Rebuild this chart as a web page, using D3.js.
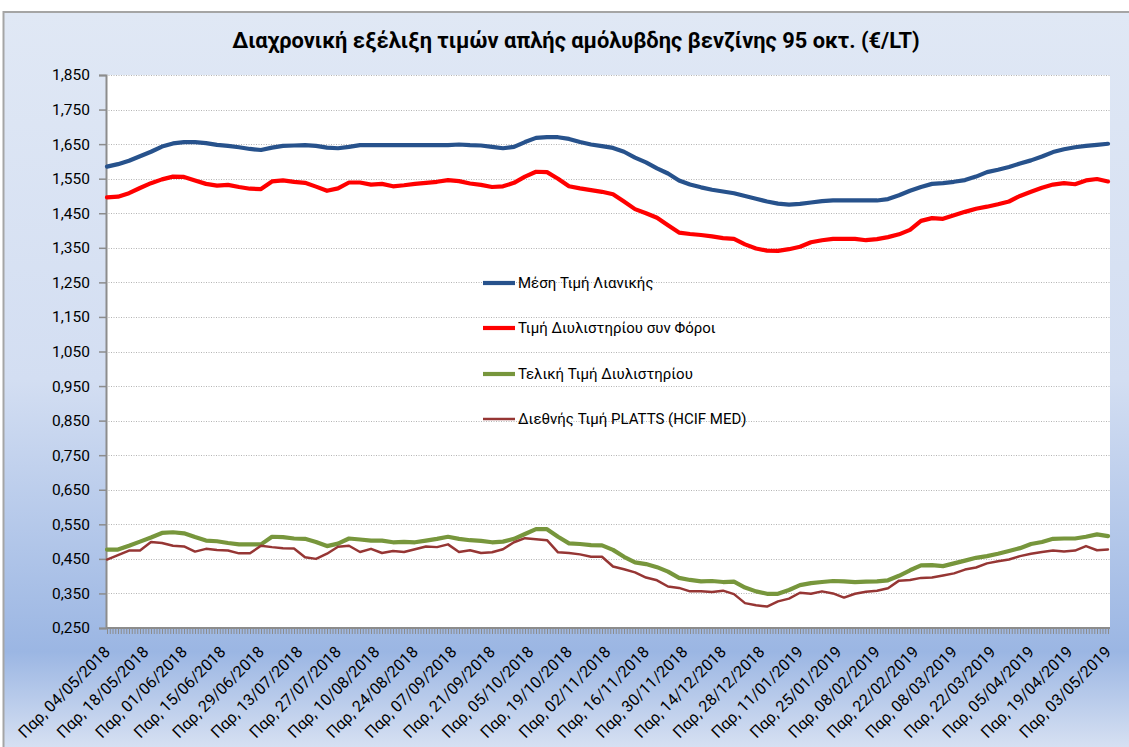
<!DOCTYPE html>
<html><head><meta charset="utf-8">
<script src="https://cdn.jsdelivr.net/npm/d3@7"></script>
<style>html,body{margin:0;padding:0;background:#fff;} svg{display:block;font-family:Roboto,"Noto Sans",sans-serif;}</style>
</head><body><svg id="chart" width="1129" height="747"></svg>
<script>
const chartTitle = "Διαχρονική εξέλιξη τιμών απλής αμόλυβδης βενζίνης 95 οκτ. (€/LT)";
const seriesNames = ["Μέση Τιμή Λιανικής", "Τιμή Διυλιστηρίου συν Φόροι", "Τελική Τιμή Διυλιστηρίου", "Διεθνής Τιμή PLATTS (HCIF MED)"];
const seriesColors = ["#27528c", "#ff0000", "#77963c", "#963634"];
const startDate = "2018-05-04", endDate = "2019-05-03", sampleStepDays = 4;

const retail = [1.585,1.592,1.602,1.615,1.628,1.643,1.652,1.656,1.656,1.653,
 1.648,1.645,1.641,1.636,1.633,1.640,1.645,1.646,1.647,1.645,
 1.640,1.638,1.642,1.647,1.647,1.647,1.647,1.647,1.647,1.647,
 1.647,1.647,1.649,1.647,1.646,1.642,1.638,1.642,1.656,1.668,
 1.670,1.670,1.665,1.656,1.649,1.644,1.639,1.628,1.611,1.597,
 1.580,1.565,1.545,1.533,1.525,1.518,1.513,1.508,1.500,1.492,
 1.484,1.478,1.475,1.477,1.481,1.485,1.487,1.487,1.487,1.487,
 1.487,1.491,1.502,1.515,1.526,1.535,1.537,1.541,1.546,1.556,
 1.569,1.576,1.584,1.594,1.603,1.614,1.627,1.635,1.641,1.645,
 1.648,1.651];
const refineryTax = [1.496,1.498,1.508,1.523,1.537,1.548,1.556,1.555,1.545,1.535,
 1.530,1.532,1.526,1.521,1.520,1.542,1.545,1.541,1.538,1.527,
 1.515,1.522,1.539,1.539,1.533,1.535,1.528,1.531,1.535,1.538,
 1.541,1.546,1.543,1.536,1.532,1.526,1.528,1.538,1.556,1.570,
 1.569,1.550,1.528,1.522,1.517,1.512,1.505,1.484,1.462,1.450,
 1.437,1.415,1.394,1.390,1.387,1.383,1.378,1.376,1.360,1.348,
 1.342,1.341,1.346,1.353,1.366,1.372,1.376,1.376,1.376,1.372,
 1.375,1.381,1.389,1.402,1.428,1.436,1.434,1.444,1.454,1.463,
 1.469,1.476,1.484,1.500,1.512,1.524,1.533,1.537,1.534,1.545,
 1.549,1.542];
const refineryFinal = [0.477,0.477,0.488,0.500,0.512,0.525,0.527,0.524,0.513,0.503,
 0.501,0.496,0.492,0.492,0.492,0.514,0.513,0.509,0.508,0.499,
 0.487,0.494,0.509,0.506,0.503,0.503,0.498,0.499,0.498,0.503,
 0.508,0.514,0.508,0.504,0.502,0.498,0.500,0.508,0.522,0.536,
 0.536,0.514,0.495,0.493,0.490,0.489,0.476,0.456,0.440,0.435,
 0.426,0.413,0.395,0.389,0.385,0.386,0.383,0.384,0.367,0.356,
 0.349,0.349,0.360,0.374,0.380,0.383,0.386,0.385,0.383,0.384,
 0.385,0.388,0.401,0.417,0.431,0.432,0.429,0.437,0.445,0.453,
 0.458,0.465,0.473,0.481,0.493,0.499,0.508,0.509,0.509,0.514,
 0.521,0.516];
const platts = [0.448,0.461,0.474,0.474,0.499,0.496,0.488,0.486,0.471,0.479,
 0.476,0.474,0.466,0.466,0.488,0.484,0.481,0.480,0.455,0.450,
 0.465,0.485,0.488,0.470,0.479,0.467,0.473,0.470,0.478,0.486,
 0.484,0.492,0.470,0.475,0.467,0.469,0.478,0.498,0.510,0.507,
 0.504,0.469,0.467,0.463,0.456,0.456,0.428,0.420,0.411,0.396,
 0.388,0.370,0.366,0.356,0.356,0.354,0.358,0.348,0.322,0.316,
 0.312,0.327,0.335,0.352,0.349,0.356,0.350,0.338,0.349,0.355,
 0.358,0.365,0.387,0.389,0.395,0.396,0.402,0.408,0.419,0.425,
 0.437,0.443,0.448,0.458,0.465,0.470,0.474,0.471,0.474,0.487,
 0.475,0.477];

const yTicks = [1.85,1.75,1.65,1.55,1.45,1.35,1.25,1.15,1.05,0.95,0.85,0.75,0.65,0.55,0.45,0.35,0.25];
const xTickLabels = ["Παρ, 04/05/2018","Παρ, 18/05/2018","Παρ, 01/06/2018","Παρ, 15/06/2018","Παρ, 29/06/2018",
 "Παρ, 13/07/2018","Παρ, 27/07/2018","Παρ, 10/08/2018","Παρ, 24/08/2018","Παρ, 07/09/2018","Παρ, 21/09/2018",
 "Παρ, 05/10/2018","Παρ, 19/10/2018","Παρ, 02/11/2018","Παρ, 16/11/2018","Παρ, 30/11/2018","Παρ, 14/12/2018",
 "Παρ, 28/12/2018","Παρ, 11/01/2019","Παρ, 25/01/2019","Παρ, 08/02/2019","Παρ, 22/02/2019","Παρ, 08/03/2019",
 "Παρ, 22/03/2019","Παρ, 05/04/2019","Παρ, 19/04/2019","Παρ, 03/05/2019"];

const W = 1129, H = 747;
const plot = {left: 106, right: 1110, top: 75, bottom: 628};
const svg = d3.select("#chart");
const parseISO = d3.timeParse("%Y-%m-%d");
const parseLabel = d3.timeParse("%d/%m/%Y");
const t0 = parseISO(startDate), t1 = parseISO(endDate);
const dates = d3.timeDay.range(t0, d3.timeDay.offset(t1, 1), sampleStepDays);

// background
const defs = svg.append("defs");
const grad = defs.append("linearGradient").attr("id", "bg").attr("gradientUnits", "userSpaceOnUse")
  .attr("x1", 0).attr("y1", 12).attr("x2", 0).attr("y2", H);
[[0, "#e0e8f5"], [0.5, "#d3def2"], [0.87, "#9bb6e3"], [1, "#d6e0f2"]].forEach(([o, c]) =>
  grad.append("stop").attr("offset", o).attr("stop-color", c));
svg.append("rect").attr("x", 0).attr("y", 0).attr("width", W).attr("height", H).attr("fill", "#fff");
svg.append("rect").attr("x", 3.5).attr("y", 12).attr("width", W + 10).attr("height", H + 10)
  .attr("fill", "url(#bg)").attr("stroke", "#a5a5a5").attr("stroke-width", 2);

// plot area
svg.append("rect").attr("x", plot.left).attr("y", plot.top).attr("width", plot.right - plot.left)
  .attr("height", plot.bottom - plot.top).attr("fill", "#fff");

const x = d3.scaleTime().domain([t0, t1]).range([plot.left + 1, plot.right - 2]);
const y = d3.scaleLinear().domain([0.25, 1.85]).range([plot.bottom, plot.top]);

// gridlines
svg.append("g").selectAll("line").data(yTicks.filter(v => v > 0.26)).join("line")
  .attr("x1", plot.left).attr("x2", plot.right)
  .attr("y1", d => Math.round(y(d)) + 0.5).attr("y2", d => Math.round(y(d)) + 0.5)
  .attr("stroke", "#b4b4b4").attr("stroke-width", 1).attr("stroke-dasharray", "1,1.5");

// y axis
const fmt = d => d3.format(".3f")(d).replace(".", ",");
const yAxis = svg.append("g").attr("transform", `translate(${plot.left},0)`)
  .call(d3.axisLeft(y).tickValues(yTicks).tickSize(7).tickPadding(9).tickFormat(fmt));
yAxis.select(".domain").attr("stroke", "#8c8c8c").attr("stroke-width", 2);
yAxis.selectAll(".tick line").attr("stroke", "#8c8c8c").attr("stroke-width", 1.5);
yAxis.selectAll("text").attr("font-size", 15.5).attr("fill", "#000").attr("font-family", "Roboto");

// x axis (daily minor ticks)
const days = d3.timeDay.range(t0, d3.timeDay.offset(t1, 1));
const xAxis = svg.append("g").attr("transform", `translate(0,${plot.bottom})`)
  .call(d3.axisBottom(x).tickValues(days).tickSize(6).tickFormat(""));
xAxis.select(".domain").attr("stroke", "#8c8c8c").attr("stroke-width", 2).attr("d", `M${plot.left},0H${plot.right}`);
xAxis.selectAll(".tick line").attr("stroke", "#8c8c8c").attr("stroke-width", 1);

// x labels
svg.append("g").selectAll("text").data(xTickLabels).join("text")
  .attr("transform", d => `translate(${x(parseLabel(d.split(", ")[1])) + 4},653) rotate(-45)`)
  .attr("text-anchor", "end").attr("font-size", 16).attr("fill", "#000")
  .text(d => d);

// lines
const seriesData = [retail, refineryTax, refineryFinal, platts];
const widths = [4.2, 4.2, 4.2, 2.5];
const line = d3.line().x((d, i) => x(dates[i])).y(d => y(d)).curve(d3.curveLinear);
seriesData.forEach((s, i) => {
  svg.append("path").datum(s).attr("d", line).attr("fill", "none")
    .attr("stroke", seriesColors[i]).attr("stroke-width", widths[i])
    .attr("stroke-linejoin", "round").attr("stroke-linecap", "round");
});

// legend
const legendY = [283, 328, 374, 419];
const lg = svg.append("g");
seriesNames.forEach((n, i) => {
  lg.append("line").attr("x1", 483).attr("x2", 515).attr("y1", legendY[i]).attr("y2", legendY[i])
    .attr("stroke", seriesColors[i]).attr("stroke-width", widths[i]);
  lg.append("text").attr("x", 518).attr("y", legendY[i]).attr("dy", "0.35em")
    .attr("font-size", 15).attr("fill", "#000").text(n);
});

// title
const tt = svg.append("text").attr("x", 576).attr("y", 48).attr("text-anchor", "middle")
  .attr("font-weight", "bold").attr("font-size", 20).attr("fill", "#000").text(chartTitle);
const len = tt.node().getComputedTextLength();
tt.attr("font-size", 20 * 688 / len);
</script></body></html>
